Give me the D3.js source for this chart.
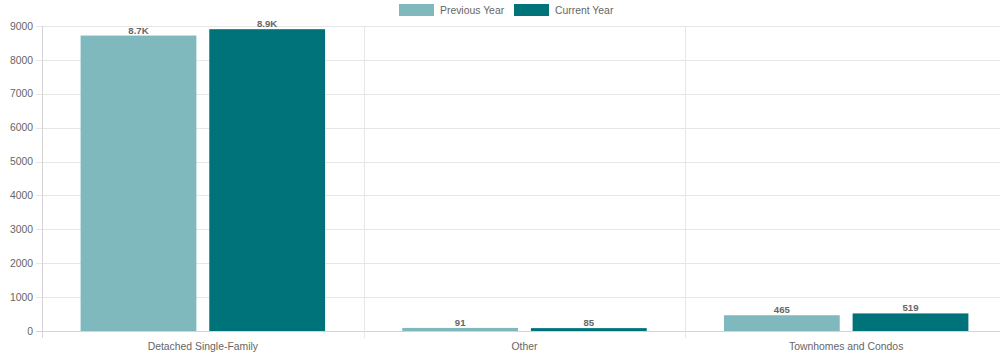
<!DOCTYPE html>
<html><head><meta charset="utf-8">
<script src="https://cdn.jsdelivr.net/npm/d3@7"></script>
<style>
html,body{margin:0;padding:0;background:#fff;overflow:hidden}
svg{display:block}
text{font-family:"Liberation Sans",Arial,Helvetica,sans-serif}
</style></head><body>
<svg id="c" width="1000" height="358"></svg>
<script>
const categories = ["Detached Single-Family", "Other", "Townhomes and Condos"];
const seriesNames = ["Previous Year", "Current Year"];
const previousYear = [8718, 91, 465];
const currentYear = [8906, 85, 519];
const yTicks = [0, 1000, 2000, 3000, 4000, 5000, 6000, 7000, 8000, 9000];
const colors = ["#80b9bd", "#00727a"];

(function () {
const svg = d3.select("#c");
const pLeft = 42, pRight = 1007, pTop = 26, pBottom = 331;
const fs = 10.4;

const x0 = d3.scaleBand().domain(categories).range([pLeft, pRight]);
const y = d3.scaleLinear().domain([0, 9000]).range([pBottom, pTop]);

const catW = x0.bandwidth();
const slot = catW * 0.8 / 2;
const barW = slot * 0.9;
function barX(ci, si) {
  return x0(categories[ci]) + catW * 0.1 + slot * si + (slot - barW) / 2;
}

svg.append("g").selectAll("line").data(yTicks).join("line")
  .attr("x1", pLeft - 6).attr("x2", pRight)
  .attr("y1", d => Math.round(y(d)) + 0.5).attr("y2", d => Math.round(y(d)) + 0.5)
  .attr("stroke", d => d === 0 ? "#d4d4d4" : "#e6e6e6").attr("stroke-width", 1);

const vb = categories.map(c => x0(c)).concat([pRight]);
svg.append("g").selectAll("line").data(vb).join("line")
  .attr("x1", d => Math.round(d) + 0.5).attr("x2", d => Math.round(d) + 0.5)
  .attr("y1", pTop).attr("y2", pBottom + 7)
  .attr("stroke", (d, i) => i === 0 ? "#d4d4d4" : "#e6e6e6").attr("stroke-width", 1);

svg.append("g").selectAll("text").data(yTicks).join("text")
  .attr("x", pLeft - 9).attr("y", d => y(d)).attr("dy", "0.35em")
  .attr("text-anchor", "end").attr("font-size", fs).attr("fill", "#666")
  .text(d => d);

svg.append("g").selectAll("text").data(categories).join("text")
  .attr("x", d => x0(d) + catW / 2).attr("y", 350)
  .attr("text-anchor", "middle").attr("font-size", fs).attr("fill", "#666")
  .text(d => d);

const series = [previousYear, currentYear];
const fmt = v => v >= 1000 ? (v / 1000).toFixed(1) + "K" : String(v);
series.forEach((vals, si) => {
  const g = svg.append("g");
  g.selectAll("rect").data(vals).join("rect")
    .attr("x", (d, i) => barX(i, si)).attr("width", barW)
    .attr("y", d => y(d)).attr("height", d => pBottom - y(d))
    .attr("fill", colors[si]);
  g.selectAll("text").data(vals).join("text")
    .attr("x", (d, i) => barX(i, si) + barW / 2).attr("y", d => y(d) - 2)
    .attr("text-anchor", "middle").attr("font-size", 9.6).attr("font-weight", "bold").attr("fill", "#666")
    .text(fmt);
});

const legend = [{name: seriesNames[0], x: 399}, {name: seriesNames[1], x: 514}];
const lg = svg.append("g");
legend.forEach((l, i) => {
  lg.append("rect").attr("x", l.x).attr("y", 4).attr("width", 35).attr("height", 12).attr("fill", colors[i]);
  lg.append("text").attr("x", l.x + 41).attr("y", 10).attr("dy", "0.35em")
    .attr("font-size", fs).attr("fill", "#666").text(l.name);
});
})();
</script>
</body></html>
